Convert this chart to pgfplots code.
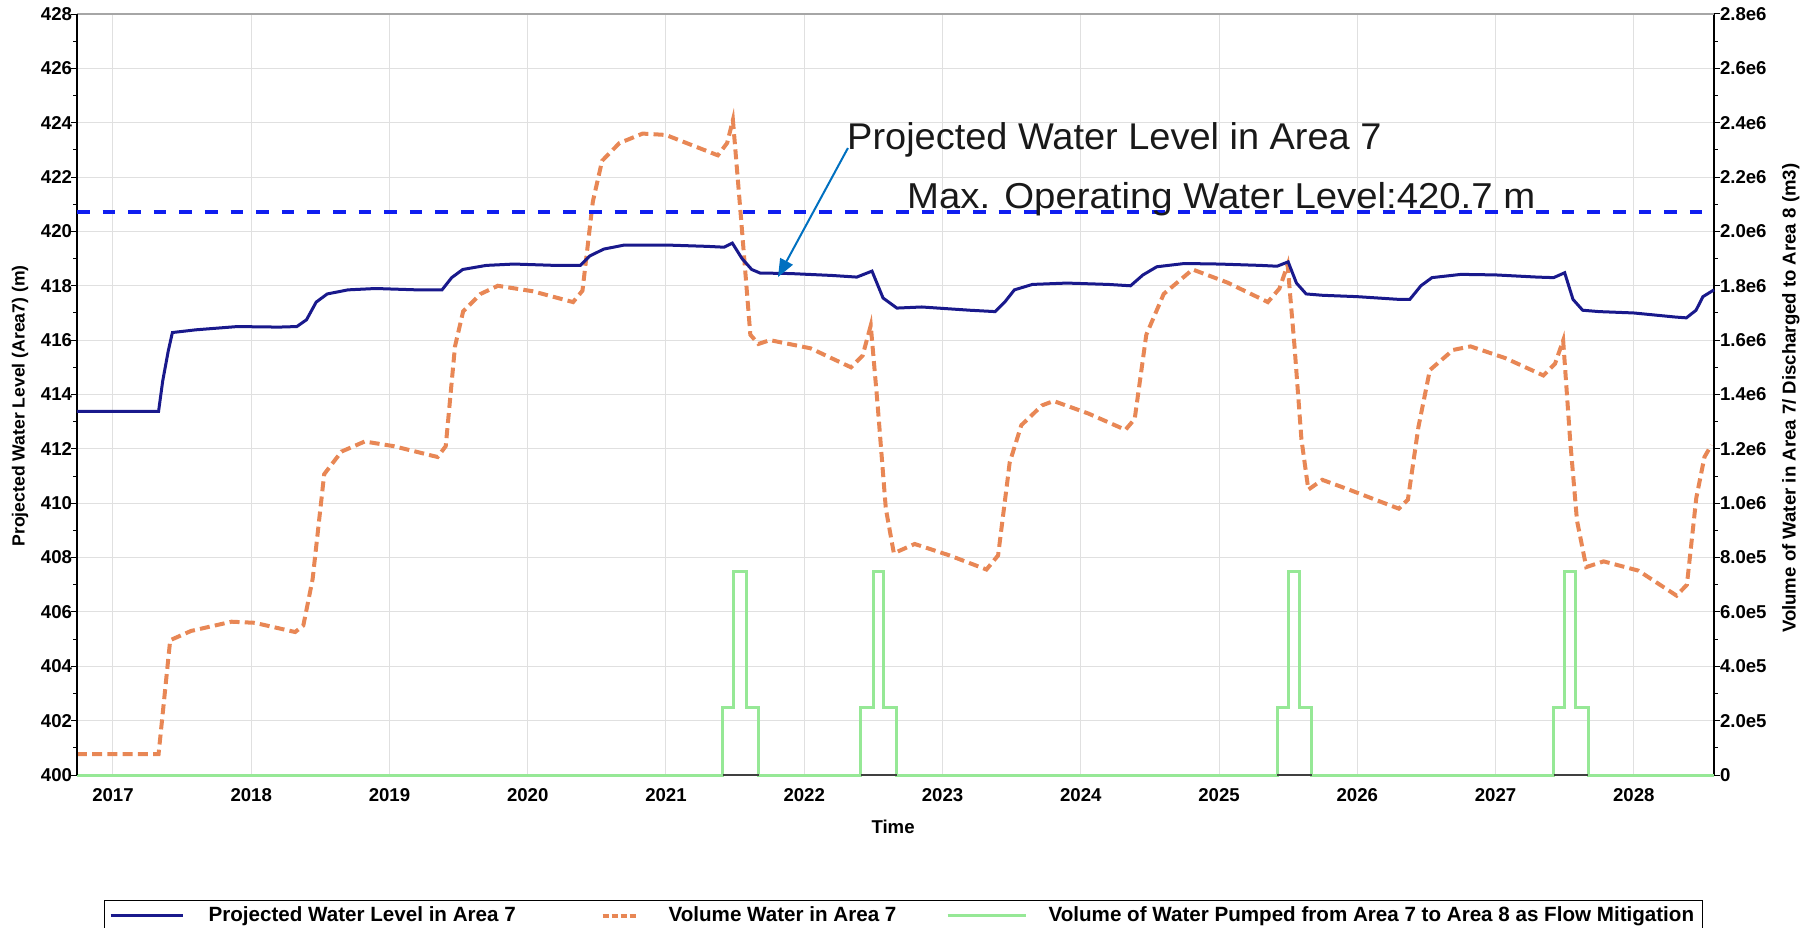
\documentclass[border=0pt]{standalone}
\usepackage{pgfplots}
\pgfplotsset{compat=1.18}
\usepackage{graphicx}
\usepackage{fontspec}
\setmainfont{Liberation Sans}
\usetikzlibrary{arrows.meta}
\definecolor{wlblue}{RGB}{25,25,140}
\definecolor{maxblue}{RGB}{15,30,240}
\definecolor{volorange}{RGB}{232,135,85}
\definecolor{pumpgreen}{RGB}{150,232,150}
\definecolor{arrowc}{RGB}{0,112,192}
\definecolor{gridc}{RGB}{224,224,224}

\pgfplotsset{
  legimgA/.style={legend image code/.code={\path[draw=none] (0pt,0pt) -- (52pt,0pt); \draw[##1] (3pt,0pt) -- (39pt,0pt);}},
  legimgB/.style={legend image code/.code={\path[draw=none] (0pt,0pt) -- (42pt,0pt); \draw[##1] (9pt,0pt) -- (25.5pt,0pt);}},
  legimgC/.style={legend image code/.code={\path[draw=none] (0pt,0pt) -- (62pt,0pt); \draw[##1] (11.5pt,0pt) -- (50.5pt,0pt);}},
}

\pgfplotstableread{
year level
2016.74 413.38
2017.33 413.38
2017.36 414.5
2017.40 415.6
2017.43 416.28
2017.60 416.38
2017.90 416.50
2018.20 416.48
2018.33 416.50
2018.40 416.75
2018.47 417.40
2018.55 417.70
2018.70 417.85
2018.90 417.90
2019.20 417.85
2019.38 417.85
2019.45 418.30
2019.53 418.60
2019.70 418.75
2019.90 418.80
2020.20 418.75
2020.38 418.75
2020.45 419.10
2020.55 419.35
2020.70 419.50
2021.00 419.50
2021.30 419.45
2021.42 419.42
2021.48 419.57
2021.55 419.00
2021.62 418.60
2021.68 418.47
2021.90 418.45
2022.20 418.38
2022.38 418.32
2022.49 418.54
2022.57 417.55
2022.67 417.18
2022.85 417.22
2023.20 417.10
2023.38 417.05
2023.45 417.40
2023.52 417.85
2023.65 418.05
2023.90 418.10
2024.20 418.05
2024.36 418.00
2024.45 418.40
2024.55 418.70
2024.75 418.82
2025.00 418.80
2025.30 418.75
2025.42 418.72
2025.50 418.88
2025.56 418.10
2025.63 417.70
2025.75 417.65
2026.00 417.60
2026.30 417.50
2026.38 417.50
2026.46 418.00
2026.54 418.30
2026.75 418.42
2027.00 418.40
2027.30 418.32
2027.42 418.30
2027.50 418.48
2027.56 417.50
2027.63 417.10
2027.75 417.05
2028.00 417.00
2028.30 416.85
2028.38 416.82
2028.45 417.10
2028.50 417.60
2028.58 417.85
}\levelA

\pgfplotstableread{
year vol
2016.74 77000
2017.33 77000
2017.414 496000
2017.565 530000
2017.858 564000
2018.025 560000
2018.318 526000
2018.377 550000
2018.444 720000
2018.528 1107000
2018.653 1190000
2018.821 1227000
2019.030 1210000
2019.348 1170000
2019.407 1210000
2019.474 1577000
2019.533 1706000
2019.659 1770000
2019.784 1800000
2020.035 1780000
2020.328 1740000
2020.396 1782000
2020.471 2110000
2020.538 2260000
2020.663 2325000
2020.831 2360000
2020.999 2355000
2021.375 2280000
2021.442 2325000
2021.484 2410000
2021.543 2047000
2021.610 1620000
2021.668 1586000
2021.752 1600000
2022.045 1570000
2022.338 1500000
2022.422 1543000
2022.481 1654000
2022.531 1360000
2022.590 980000
2022.648 816000
2022.799 850000
2023.050 808000
2023.318 756000
2023.402 808000
2023.486 1150000
2023.570 1287000
2023.720 1360000
2023.804 1376000
2024.055 1330000
2024.323 1270000
2024.390 1310000
2024.474 1620000
2024.600 1770000
2024.809 1860000
2025.060 1812000
2025.353 1740000
2025.437 1790000
2025.496 1877000
2025.546 1577000
2025.596 1235000
2025.646 1050000
2025.747 1086000
2025.940 1050000
2026.300 980000
2026.366 1013000
2026.442 1280000
2026.525 1490000
2026.693 1564000
2026.819 1577000
2027.070 1534000
2027.346 1470000
2027.430 1513000
2027.489 1599000
2027.539 1235000
2027.589 936000
2027.656 765000
2027.782 786000
2028.033 752000
2028.309 660000
2028.384 700000
2028.452 1020000
2028.511 1170000
2028.561 1214000
}\volA

\pgfplotstableread{
year vol
2016.74 0
2021.41 0
2021.41 250000
2021.49 250000
2021.49 750000
2021.58 750000
2021.58 250000
2021.67 250000
2021.67 0
2022.41 0
2022.41 250000
2022.50 250000
2022.50 750000
2022.57 750000
2022.57 250000
2022.67 250000
2022.67 0
2025.42 0
2025.42 250000
2025.50 250000
2025.50 750000
2025.58 750000
2025.58 250000
2025.67 250000
2025.67 0
2027.42 0
2027.42 250000
2027.50 250000
2027.50 750000
2027.58 750000
2027.58 250000
2027.67 250000
2027.67 0
2028.58 0
}\pumpA

\begin{document}
\begin{tikzpicture}
\pgfplotsset{
  base/.style={
    width=818.5pt, height=380.5pt, scale only axis,
    at={(0,0)}, anchor=south west,
    xmin=2016.74, xmax=2028.58,
    clip=false,
    tick align=outside,
    major tick length=3pt, minor tick length=2pt,
    every tick/.style={black, line width=0.5pt},
    tick label style={font=\bfseries\fontsize{9.3}{11}\selectfont},
    label style={font=\bfseries\fontsize{9.3}{11}\selectfont},
  }
}
% right (volume) axis with grid
\begin{axis}[base,
  ymin=0, ymax=2800000,
  axis x line*=bottom, axis y line*=right,
  x axis line style={draw=gray!70, line width=0.6pt},
  y axis line style={draw=black, line width=0.6pt},
  xtick={2017,2018,2019,2020,2021,2022,2023,2024,2025,2026,2027,2028},
  xticklabels={2017,2018,2019,2020,2021,2022,2023,2024,2025,2026,2027,2028},
  xtick style={draw=none},
  ytick={0,200000,400000,600000,800000,1000000,1200000,1400000,1600000,1800000,2000000,2200000,2400000,2600000,2800000},
  yticklabels={0,2.0e5,4.0e5,6.0e5,8.0e5,1.0e6,1.2e6,1.4e6,1.6e6,1.8e6,2.0e6,2.2e6,2.4e6,2.6e6,2.8e6},
  yticklabel style={xshift=-3.5pt},
  minor y tick num=1,
  xmajorgrids, ymajorgrids,
  grid style={draw=gridc, line width=0.5pt},
  xlabel={Time},
  xlabel style={at={(axis description cs:0.4985,-0.0683)}, anchor=center},
  ylabel={Volume of Water in Area 7/ Discharged to Area 8 (m3)},
  ylabel style={at={(axis description cs:1.047,0.495)}, anchor=center},
]
\draw[gray!70, line width=0.6pt] (rel axis cs:0,1) -- (rel axis cs:1,1);
\addplot[volorange, line width=2pt, dash pattern=on 5pt off 2.6pt] table[x=year, y=vol] {\volA};
\addplot[pumpgreen, line width=1.5pt] table[x=year, y=vol] {\pumpA};
\addplot[black!75, line width=1pt] coordinates {(2021.41,0) (2021.67,0)};
\addplot[black!75, line width=1pt] coordinates {(2022.41,0) (2022.67,0)};
\addplot[black!75, line width=1pt] coordinates {(2025.42,0) (2025.67,0)};
\addplot[black!75, line width=1pt] coordinates {(2027.42,0) (2027.67,0)};
\end{axis}
% left (level) axis
\begin{axis}[base,
  ymin=400, ymax=428,
  axis x line=none, axis y line*=left,
  y axis line style={draw=black, line width=0.6pt},
  ytick={400,402,404,406,408,410,412,414,416,418,420,422,424,426,428},
  yticklabels={400,402,404,406,408,410,412,414,416,418,420,422,424,426,428},
  yticklabel style={xshift=4pt},
  minor y tick num=1,
  ylabel={Projected Water Level (Area7) (m)},
  ylabel style={at={(axis description cs:-0.0348,0.485)}, anchor=center, font=\bfseries\fontsize{8.8}{10}\selectfont},
  legend columns=3,
  legend cell align=left,
  legend style={at={(0.0165,-0.1643)}, anchor=north west,
    draw=black, line width=0.6pt, inner xsep=0pt, inner ysep=3pt,
    font=\bfseries\fontsize{10.3}{12}\selectfont,
    nodes={inner sep=0pt},
    /tikz/every even column/.style={column sep=0pt},
    /tikz/every odd column/.style={column sep=0pt}},
]
\addplot[wlblue, line width=1.5pt, legimgA] table[x=year, y=level] {\levelA};
\addlegendentry{\makebox[188pt][l]{Projected Water Level in Area 7}}
\addlegendimage{volorange, line width=2pt, dash pattern=on 3pt off 1.5pt, legimgB}
\addlegendentry{\makebox[128pt][l]{Volume Water in Area 7}}
\addlegendimage{pumpgreen, line width=1.5pt, legimgC}
\addlegendentry{\makebox[327pt][l]{Volume of Water Pumped from Area 7 to Area 8 as Flow Mitigation}}
\addplot[maxblue, line width=2pt, dash pattern=on 6.3pt off 6.5pt, forget plot] coordinates {(2016.74,420.7) (2028.58,420.7)};
\draw[arrowc, line width=1pt, -{Triangle[length=9pt,width=7pt]}] (axis cs:2022.316,423.07) -- (axis cs:2021.81,418.32);
\node[anchor=base west, inner sep=0pt, text=black!90] at (axis cs:2022.308,423.0) {\scalebox{1.02}[1]{\fontsize{18.6}{20}\selectfont Projected Water Level in Area 7}};
\node[anchor=base west, inner sep=0pt, text=black!90] at (axis cs:2022.742,420.86) {\scalebox{1.064}[1]{\fontsize{18}{20}\selectfont Max. Operating Water Level:420.7 m}};
\end{axis}
\pgfresetboundingbox
\path[use as bounding box] (-38.5pt,-76pt) rectangle (869.5pt,387.5pt);
\end{tikzpicture}
\end{document}
